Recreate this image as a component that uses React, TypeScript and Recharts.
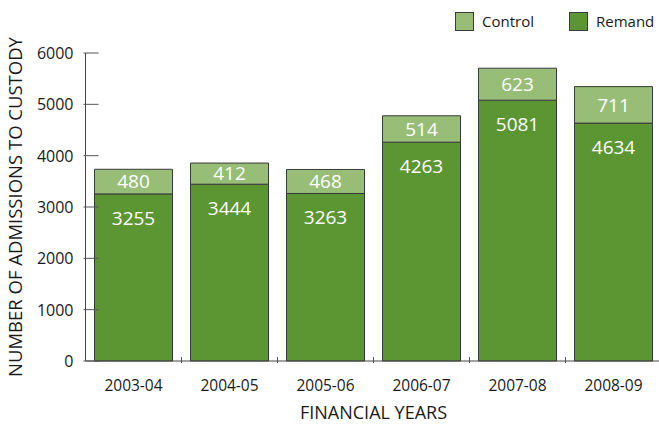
import React from 'react'
import { BarChart, Bar, XAxis, YAxis, LabelList, Label } from 'recharts'

const years = ['2003-04', '2004-05', '2005-06', '2006-07', '2007-08', '2008-09']
const remand = [3255, 3444, 3263, 4263, 5081, 4634]
const control = [480, 412, 468, 514, 623, 711]
const yTicks = [0, 1000, 2000, 3000, 4000, 5000, 6000]
const legendItems = [
  { name: 'Control', color: '#97bd76' },
  { name: 'Remand', color: '#5b9632' },
]

const REMAND = '#5b9632'
const CONTROL = '#97bd76'
const EDGE = '#3a3a3a'
const FONT = '"Open Sans", "Noto Sans", sans-serif'

const data = years.map((year, i) => ({ year, remand: remand[i], control: control[i] }))

// y ticks point inward (into the plot), so draw them ourselves
const YTick = (props: any) => {
  const { x, y, payload } = props
  return (
    <g>
      <line x1={x} x2={x + 15} y1={y} y2={y} stroke="#555" strokeWidth={1} />
      <text x={x - 10} y={y} textAnchor="end" dominantBaseline="central" fontSize={16} fill="#1a1a1a" fontFamily={FONT}>
        {payload.value}
      </text>
    </g>
  )
}

const XTick = (props: any) => {
  const { x, y, payload, band } = props
  return (
    <g>
      <line x1={x + band / 2} x2={x + band / 2} y1={y} y2={y - 6} stroke="#555" strokeWidth={1} />
      <text x={x} y={y + 22} textAnchor="middle" dominantBaseline="central" fontSize={15.5} fill="#1a1a1a" fontFamily={FONT}>
        {payload.value}
      </text>
    </g>
  )
}

const RemandLabel = (props: any) => {
  const { x, y, width, value } = props
  return (
    <text x={x + width / 2} y={y + 24} textAnchor="middle" dominantBaseline="central" fontSize={19} fill="#fff" fontFamily={FONT}>
      {value}
    </text>
  )
}

const LegendBox = () => (
  <div style={{ position: 'absolute', top: 12, left: 0, fontFamily: FONT, fontSize: 15, color: '#1a1a1a', lineHeight: '19px' }}>
    {legendItems.map((item, i) => (
      <div key={item.name} style={{ position: 'absolute', top: 0, left: i === 0 ? 455 : 569, display: 'flex', alignItems: 'center', whiteSpace: 'nowrap' }}>
        <span style={{ width: 17, height: 17, background: item.color, border: `1px solid ${EDGE}`, display: 'inline-block', marginRight: 8 }} />
        <span>{item.name}</span>
      </div>
    ))}
  </div>
)

export default function App() {
  const plotLeft = 85.5
  const plotWidth = 576
  const band = plotWidth / years.length
  return (
    <div style={{ position: 'absolute', left: 0, top: 0, width: 659, height: 424, overflow: 'hidden', background: '#fff' }}>
      <BarChart
        width={plotLeft + plotWidth}
        height={424}
        data={data}
        margin={{ top: 53, right: 0, bottom: 0, left: 0 }}
        barSize={78}
      >
        <XAxis
          dataKey="year"
          height={63}
          stroke="#444"
          tickLine={false}
          tickSize={0}
          tick={<XTick band={band} />}
          interval={0}
        >
          <Label value="FINANCIAL YEARS" position="insideBottom" offset={5} fontSize={18} fill="#1a1a1a" fontFamily={FONT} />
        </XAxis>
        <YAxis
          width={plotLeft}
          domain={[0, 6000]}
          ticks={yTicks}
          stroke="#444"
          tickLine={false}
          tickSize={0}
          tick={<YTick />}
          interval={0}
        >
          <Label
            value="NUMBER OF ADMISSIONS TO CUSTODY"
            angle={-90}
            position="insideLeft"
            offset={15}
            style={{ textAnchor: 'middle' }}
            fontSize={18.5}
            fill="#1a1a1a"
            fontFamily={FONT}
          />
        </YAxis>
        <Bar dataKey="remand" stackId="a" fill={REMAND} stroke={EDGE} strokeWidth={1} isAnimationActive={false}>
          <LabelList dataKey="remand" content={<RemandLabel />} />
        </Bar>
        <Bar dataKey="control" stackId="a" fill={CONTROL} stroke={EDGE} strokeWidth={1} isAnimationActive={false}>
          <LabelList dataKey="control" position="center" fill="#fff" fontSize={19} fontFamily={FONT} />
        </Bar>
      </BarChart>
      <LegendBox />
    </div>
  )
}
